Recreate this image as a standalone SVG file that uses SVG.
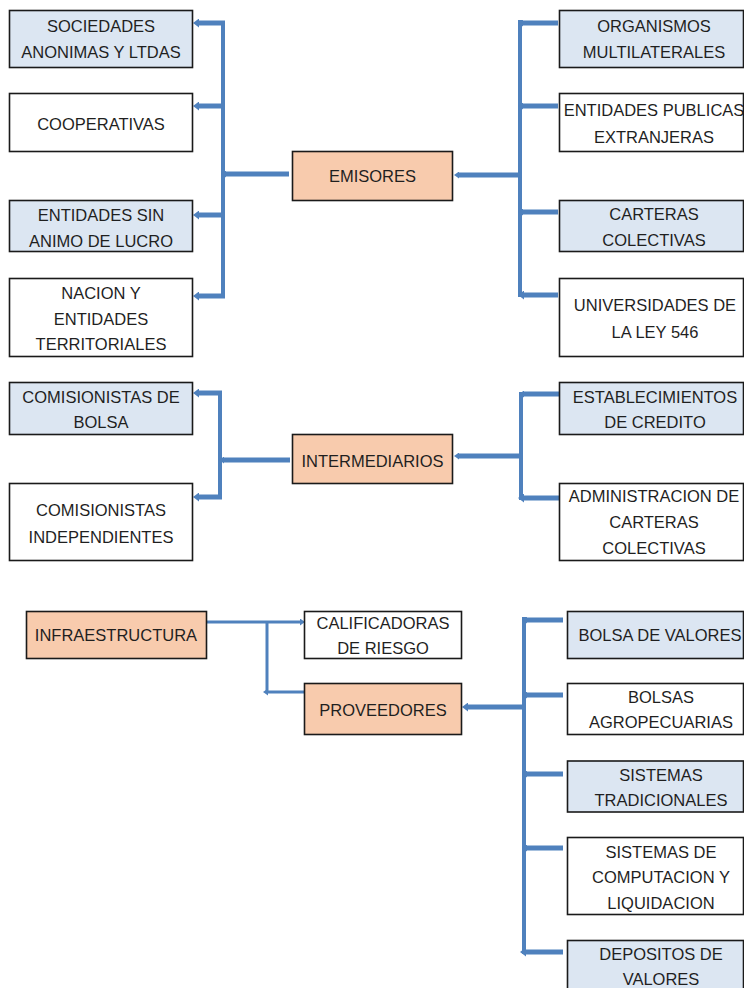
<svg xmlns="http://www.w3.org/2000/svg" width="744" height="988" viewBox="0 0 744 988">
<style>
rect{stroke:#1a1a1a;stroke-width:1.6}
.bl{fill:#dce6f2}.pe{fill:#f8cbad}.wh{fill:#fff}
text{font-family:"Liberation Sans",Arial,sans-serif;font-size:16.5px;fill:#1f1f1f;text-anchor:middle}
.c line{stroke:#4f81bd;stroke-width:5;fill:none}
.c line.v{stroke-width:4}
.c line.t{stroke-width:3}
</style>
<defs>
<marker id="a" viewBox="0 0 6 9" refX="0" refY="4.5" markerWidth="6" markerHeight="9" markerUnits="userSpaceOnUse" orient="auto"><path d="M0,0 L6,4.5 L0,9 z" fill="#4f81bd"/></marker>
<marker id="s" viewBox="0 0 5 7" refX="0" refY="3.5" markerWidth="5" markerHeight="7" markerUnits="userSpaceOnUse" orient="auto"><path d="M0,0 L5,3.5 L0,7 z" fill="#4f81bd"/></marker>
</defs>
<g id="connectors" class="c">
<line class="v" x1="223" y1="21" x2="223" y2="298"/>
<line x1="225" y1="23" x2="199" y2="23" marker-end="url(#a)"/>
<line x1="225" y1="106" x2="199" y2="106" marker-end="url(#a)"/>
<line x1="225" y1="215" x2="199" y2="215" marker-end="url(#a)"/>
<line x1="225" y1="296" x2="199" y2="296" marker-end="url(#a)"/>
<line x1="289" y1="174" x2="226" y2="174" marker-end="url(#s)"/>
<line class="v" x1="520" y1="20" x2="520" y2="297"/>
<line x1="558" y1="23" x2="523" y2="23" marker-end="url(#s)"/>
<line x1="558" y1="106" x2="523" y2="106" marker-end="url(#s)"/>
<line x1="558" y1="212" x2="523" y2="212" marker-end="url(#s)"/>
<line x1="558" y1="295" x2="524" y2="295" marker-end="url(#a)"/>
<line x1="522" y1="175" x2="459" y2="175" marker-end="url(#s)"/>
<line class="v" x1="220" y1="391" x2="220" y2="499"/>
<line x1="222" y1="393" x2="199" y2="393" marker-end="url(#a)"/>
<line x1="222" y1="497" x2="199" y2="497" marker-end="url(#a)"/>
<line x1="290" y1="460" x2="224" y2="460" marker-end="url(#s)"/>
<line class="v" x1="521" y1="392" x2="521" y2="500"/>
<line x1="559" y1="394" x2="524" y2="394" marker-end="url(#s)"/>
<line x1="559" y1="498" x2="524" y2="498" marker-end="url(#a)"/>
<line x1="523" y1="456" x2="459" y2="456" marker-end="url(#s)"/>
<line class="t" x1="206" y1="622" x2="300" y2="622" marker-end="url(#s)"/>
<line class="t" x1="267" y1="621" x2="267" y2="693"/>
<line class="t" x1="304" y1="692" x2="268" y2="692" marker-end="url(#s)"/>
<line class="v" x1="524" y1="617" x2="524" y2="954"/>
<line x1="563" y1="620" x2="527" y2="620" marker-end="url(#s)"/>
<line x1="563" y1="695" x2="527" y2="695" marker-end="url(#s)"/>
<line x1="563" y1="774" x2="527" y2="774" marker-end="url(#s)"/>
<line x1="563" y1="848" x2="527" y2="848" marker-end="url(#s)"/>
<line x1="563" y1="952" x2="526" y2="952" marker-end="url(#a)"/>
<line x1="526" y1="707" x2="468" y2="707" marker-end="url(#a)"/>
</g>
<g id="emisores"><rect class="pe" x="292.5" y="151.5" width="160" height="49"/><text x="372.5" y="182">EMISORES</text></g>
<g id="sociedades"><rect class="bl" x="9.5" y="10.5" width="183" height="57"/><text x="101" y="32">SOCIEDADES</text><text x="101" y="58">ANONIMAS Y LTDAS</text></g>
<g id="cooperativas"><rect class="wh" x="9.5" y="93.5" width="183" height="58"/><text x="101" y="130">COOPERATIVAS</text></g>
<g id="sin-animo"><rect class="bl" x="9.5" y="200.5" width="183" height="51"/><text x="101" y="220.5">ENTIDADES SIN</text><text x="101" y="246.5">ANIMO DE LUCRO</text></g>
<g id="nacion"><rect class="wh" x="9.5" y="278.5" width="183" height="78"/><text x="101" y="299">NACION Y</text><text x="101" y="325">ENTIDADES</text><text x="101" y="350">TERRITORIALES</text></g>
<g id="organismos"><rect class="bl" x="559.5" y="10.5" width="184" height="57"/><text x="654" y="32">ORGANISMOS</text><text x="654" y="58">MULTILATERALES</text></g>
<g id="publicas"><rect class="wh" x="559.5" y="93.5" width="184" height="58"/><text x="654" y="116">ENTIDADES PUBLICAS</text><text x="654" y="142.5">EXTRANJERAS</text></g>
<g id="carteras"><rect class="bl" x="559.5" y="200.5" width="184" height="51"/><text x="654" y="220">CARTERAS</text><text x="654" y="246">COLECTIVAS</text></g>
<g id="universidades"><rect class="wh" x="559.5" y="278.5" width="184" height="78"/><text x="655" y="311">UNIVERSIDADES DE</text><text x="655" y="338">LA LEY 546</text></g>
<g id="intermediarios"><rect class="pe" x="292.5" y="434.5" width="160" height="49"/><text x="372.5" y="467">INTERMEDIARIOS</text></g>
<g id="com-bolsa"><rect class="bl" x="9.5" y="382.5" width="183" height="52"/><text x="101" y="403">COMISIONISTAS DE</text><text x="101" y="428">BOLSA</text></g>
<g id="com-indep"><rect class="wh" x="9.5" y="483.5" width="183" height="77"/><text x="101" y="516">COMISIONISTAS</text><text x="101" y="543">INDEPENDIENTES</text></g>
<g id="establecimientos"><rect class="bl" x="559.5" y="382.5" width="184" height="52"/><text x="655" y="402.5">ESTABLECIMIENTOS</text><text x="655" y="428">DE CREDITO</text></g>
<g id="administracion"><rect class="wh" x="559.5" y="483.5" width="184" height="77"/><text x="654" y="502">ADMINISTRACION DE</text><text x="654" y="528">CARTERAS</text><text x="654" y="554">COLECTIVAS</text></g>
<g id="infraestructura"><rect class="pe" x="26.5" y="611.5" width="180" height="47"/><text x="116" y="641">INFRAESTRUCTURA</text></g>
<g id="calificadoras"><rect class="wh" x="304.5" y="611.5" width="157" height="47"/><text x="383" y="629">CALIFICADORAS</text><text x="383" y="654">DE RIESGO</text></g>
<g id="proveedores"><rect class="pe" x="304.5" y="683.5" width="157" height="51"/><text x="383" y="716">PROVEEDORES</text></g>
<g id="bolsa-valores"><rect class="bl" x="567.5" y="611.5" width="176" height="47"/><text x="660" y="641">BOLSA DE VALORES</text></g>
<g id="bolsas-agro"><rect class="wh" x="567.5" y="683.5" width="176" height="51"/><text x="661" y="703">BOLSAS</text><text x="661" y="728">AGROPECUARIAS</text></g>
<g id="tradicionales"><rect class="bl" x="567.5" y="761" width="176" height="51"/><text x="661" y="781">SISTEMAS</text><text x="661" y="806">TRADICIONALES</text></g>
<g id="computacion"><rect class="wh" x="567.5" y="837.5" width="176" height="77"/><text x="661" y="857.5">SISTEMAS DE</text><text x="661" y="883">COMPUTACION Y</text><text x="661" y="909">LIQUIDACION</text></g>
<g id="depositos"><rect class="bl" x="567.5" y="940.5" width="176" height="60"/><text x="661" y="959.5">DEPOSITOS DE</text><text x="661" y="984.5">VALORES</text></g>
</svg>
